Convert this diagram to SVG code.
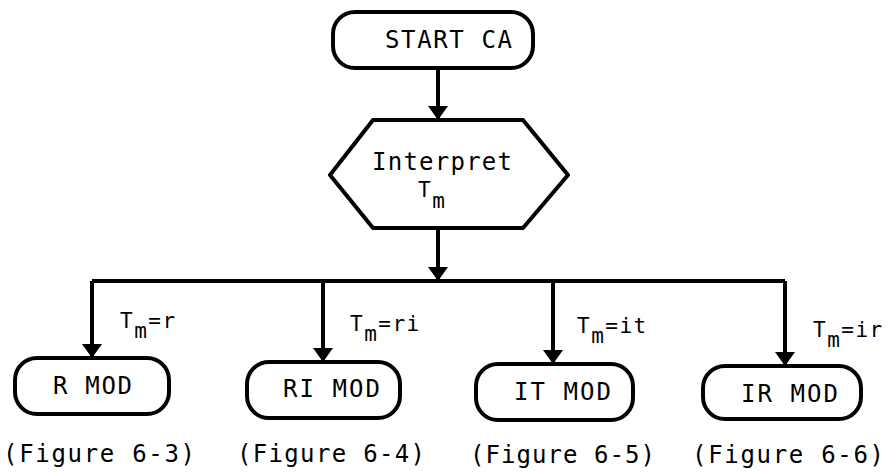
<svg xmlns="http://www.w3.org/2000/svg" width="888" height="474" viewBox="0 0 888 474">
<style>
.bx{fill:#fff;stroke:#000;stroke-width:4;stroke-linejoin:round}
.ln{fill:none;stroke:#000;stroke-width:4}
.t{font-family:"DejaVu Sans Mono","Liberation Mono",monospace;font-size:24px;fill:#000}
.lb{font-family:"DejaVu Sans Mono","Liberation Mono",monospace;font-size:21px;fill:#000;letter-spacing:1.5px}
</style>
<defs>
<marker id="ah" markerUnits="userSpaceOnUse" markerWidth="15" markerHeight="20" refX="14" refY="10" orient="auto" viewBox="0 0 15 20">
<path d="M0,0 L14,10 L0,20 Z" fill="#000"/>
</marker>
</defs>
<rect width="888" height="474" fill="#fff"/>
<g id="connectors">
<path class="ln" d="M438,68 V120" marker-end="url(#ah)"/>
<path class="ln" d="M438,228 V281" marker-end="url(#ah)"/>
<path class="ln" d="M92,281 H785"/>
<path class="ln" d="M92,281 V358" marker-end="url(#ah)"/>
<path class="ln" d="M323,281 V362" marker-end="url(#ah)"/>
<path class="ln" d="M553,281 V364" marker-end="url(#ah)"/>
<path class="ln" d="M785,281 V366" marker-end="url(#ah)"/>
<text class="lb" x="120" y="328">T<tspan dy="10">m</tspan><tspan dy="-10">=r</tspan></text>
<text class="lb" x="350" y="331">T<tspan dy="10">m</tspan><tspan dy="-10">=ri</tspan></text>
<text class="lb" x="577" y="333">T<tspan dy="10">m</tspan><tspan dy="-10">=it</tspan></text>
<text class="lb" x="813" y="337">T<tspan dy="10">m</tspan><tspan dy="-10">=ir</tspan></text>
</g>
<g id="start">
<rect class="bx" x="333" y="12" width="200" height="56" rx="22"/>
<text class="t" x="385" y="48" textLength="127" lengthAdjust="spacing">START CA</text>
</g>
<g id="interpret">
<polygon class="bx" points="330,175 373,120 523,120 568,175 523,228 373,228"/>
<text class="t" x="372" y="170" textLength="140" lengthAdjust="spacing">Interpret</text>
<text class="lb" x="418" y="197">T<tspan dy="11">m</tspan></text>
</g>
<g id="rmod">
<rect class="bx" x="15" y="358" width="154" height="56" rx="22"/>
<text class="t" x="53" y="394" textLength="79" lengthAdjust="spacing">R MOD</text>
<text class="t" x="3" y="462" textLength="192" lengthAdjust="spacing">(Figure 6-3)</text>
</g>
<g id="rimod">
<rect class="bx" x="247" y="362" width="153" height="56" rx="22"/>
<text class="t" x="283" y="397" textLength="97" lengthAdjust="spacing">RI MOD</text>
<text class="t" x="237" y="462" textLength="188" lengthAdjust="spacing">(Figure 6-4)</text>
</g>
<g id="itmod">
<rect class="bx" x="476" y="364" width="157" height="56" rx="22"/>
<text class="t" x="514" y="400" textLength="97" lengthAdjust="spacing">IT MOD</text>
<text class="t" x="470" y="463" textLength="185" lengthAdjust="spacing">(Figure 6-5)</text>
</g>
<g id="irmod">
<rect class="bx" x="703" y="366" width="158" height="53" rx="22"/>
<text class="t" x="741" y="402" textLength="97" lengthAdjust="spacing">IR MOD</text>
<text class="t" x="692" y="463" textLength="192" lengthAdjust="spacing">(Figure 6-6)</text>
</g>
</svg>
